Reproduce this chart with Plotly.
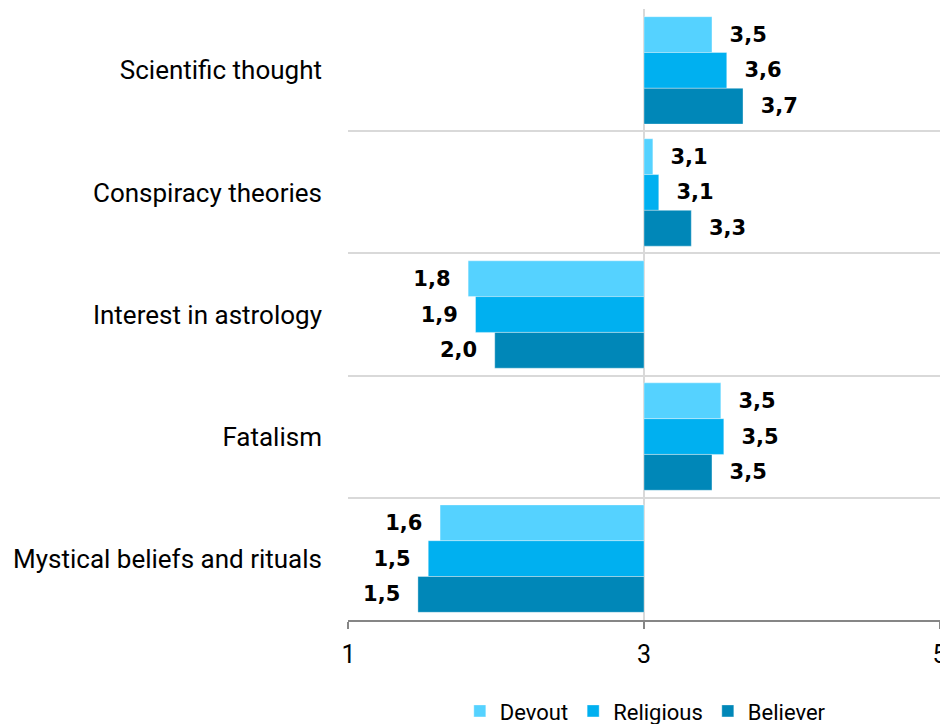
import plotly.graph_objects as go

categories = ["Scientific thought", "Conspiracy theories", "Interest in astrology",
              "Fatalism", "Mystical beliefs and rituals"]
series_names = ["Devout", "Religious", "Believer"]
devout = [3.46, 3.06, 1.81, 3.52, 1.62]
religious = [3.56, 3.10, 1.86, 3.54, 1.54]
believer = [3.67, 3.32, 1.99, 3.46, 1.47]
x_ticks = [1, 3, 5]
base_value = 3

colors = ["#55D2FF", "#00B0F0", "#0087B8"]
NB = "\u00a0"

fig = go.Figure()
for name, vals, col in zip(series_names, [devout, religious, believer], colors):
    texts = []
    for v in vals:
        s = f"{v:.1f}".replace(".", ",")
        texts.append(NB * 2 + s if v >= base_value else s + NB * 2)
    fig.add_trace(go.Bar(
        name=name, orientation="h", y=categories,
        x=[v - base_value for v in vals], base=base_value,
        marker=dict(color=col, line=dict(width=0.8, color="rgba(255,255,255,0.45)")),
        text=texts, textposition="outside", cliponaxis=False,
        textfont=dict(family="DejaVu Sans", size=21, color="black", weight="bold"),
        customdata=vals, hovertemplate="%{y}: %{customdata}<extra>" + name + "</extra>",
    ))

n = len(categories)
eps = 0.003
fig.update_layout(
    width=940, height=716,
    margin=dict(l=340, r=8, t=1, b=104),
    barmode="group", bargap=0.12, bargroupgap=0,
    plot_bgcolor="white", paper_bgcolor="white",
    font=dict(family="Roboto", size=26, color="black"),
    showlegend=True,
    legend=dict(orientation="h", x=0.678, xanchor="center", xref="container",
                y=0.018, yanchor="middle", yref="container",
                font=dict(size=22), traceorder="normal", itemwidth=30),
    xaxis=dict(range=[1 - eps, 5 + eps], tickvals=x_ticks, showgrid=True, gridcolor="#d9d9d9",
               gridwidth=1.5, showline=True, linecolor="#868686", linewidth=1.5,
               ticks="outside", ticklen=7, tickcolor="#868686", tickwidth=1.5,
               zeroline=False, tickfont=dict(size=25), automargin=False,
               ticklabelstandoff=4),
    yaxis=dict(type="category", categoryorder="array", categoryarray=categories,
               range=[n - 0.5 + eps, -0.5 - eps], tickson="boundaries", showgrid=True,
               gridcolor="#d9d9d9", gridwidth=1.5, ticks="", showline=False,
               ticklabelstandoff=25, automargin=False),
    yaxis2=dict(overlaying="y", anchor="free", position=0.5, range=[n - 0.5 + eps, -0.5 - eps],
                tickvals=[i - 0.5 for i in range(n + 1)], showticklabels=False,
                ticks="outside", ticklen=5, tickcolor="#868686", tickwidth=1.5,
                showline=True, linecolor="#868686", linewidth=1.5, showgrid=False,
                zeroline=False, automargin=False),
)
fig.write_html("out.html")
